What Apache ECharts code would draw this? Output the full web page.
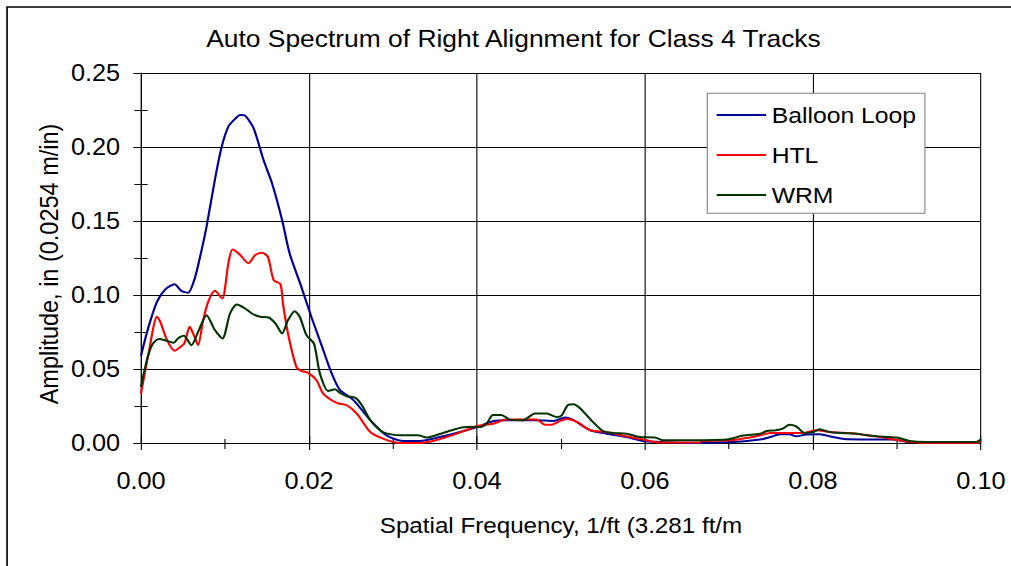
<!DOCTYPE html>
<html>
<head>
<meta charset="utf-8">
<script src="https://cdn.jsdelivr.net/npm/echarts@6/dist/echarts.min.js"></script>
<style>
  html, body { margin: 0; padding: 0; background: #fff; overflow: hidden; }
  /* Chart is laid out in a narrower box and widened 1.1x, giving the broad Arial look */
  #chart { position: absolute; left: 0; top: 0; width: 919.09px; height: 566px;
           transform: scaleX(1.1); transform-origin: 0 0; }
</style>
</head>
<body>
<div id="chart"></div>
<script>
// Spatial frequency (1/ft) and amplitude (in) for each track
const balloonFreq = [0, 0.0009, 0.0019, 0.0029, 0.0040, 0.0048, 0.0056, 0.0064, 0.0072, 0.0078, 0.0088, 0.0096, 0.0104, 0.0112, 0.0118, 0.0124, 0.0134, 0.0146, 0.0156, 0.0168, 0.0177, 0.0190, 0.0203, 0.0215, 0.0227, 0.0237, 0.0253, 0.0273, 0.0292, 0.0312, 0.0332, 0.0356, 0.0380, 0.0400, 0.0419, 0.0435, 0.0471, 0.0491, 0.0505, 0.0515, 0.0535, 0.0554, 0.0578, 0.0598, 0.0618, 0.0646, 0.0701, 0.0737, 0.0749, 0.0761, 0.0772, 0.0780, 0.0792, 0.0808, 0.0824, 0.0840, 0.0895, 0.0915, 0.0995, 0.1000];
const balloonAmp = [0.059, 0.0785, 0.0954, 0.1038, 0.1072, 0.1028, 0.1015, 0.1112, 0.130, 0.146, 0.178, 0.200, 0.2138, 0.219, 0.2217, 0.2212, 0.2127, 0.191, 0.1755, 0.1507, 0.128, 0.107, 0.085, 0.066, 0.047, 0.0357, 0.029, 0.0154, 0.0052, 0.0014, 0.0014, 0.004, 0.0074, 0.0108, 0.0147, 0.0154, 0.0154, 0.0149, 0.0172, 0.0154, 0.0086, 0.0063, 0.004, 0.0014, 0.0007, 0.0, 0.0005, 0.0023, 0.004, 0.0059, 0.0059, 0.0045, 0.0057, 0.0059, 0.004, 0.0025, 0.0023, 0.0007, 0.0007, 0.0018];

const htlFreq = [0, 0.0009, 0.0019, 0.0023, 0.0031, 0.0040, 0.0048, 0.0052, 0.0058, 0.0064, 0.0068, 0.0074, 0.0080, 0.0088, 0.0097, 0.0100, 0.0104, 0.0109, 0.0117, 0.0128, 0.0136, 0.0144, 0.0151, 0.0158, 0.0166, 0.0169, 0.0175, 0.0185, 0.0191, 0.0199, 0.0209, 0.0217, 0.0233, 0.0245, 0.0257, 0.0273, 0.0288, 0.0308, 0.0332, 0.0351, 0.0376, 0.0400, 0.0419, 0.0435, 0.0471, 0.0481, 0.0489, 0.0499, 0.0507, 0.0519, 0.0535, 0.0554, 0.0578, 0.0598, 0.0618, 0.0665, 0.0669, 0.0701, 0.0725, 0.0737, 0.0749, 0.0788, 0.0804, 0.0820, 0.0852, 0.0884, 0.0908, 0.0935, 0.0995, 0.1000];
const htlAmp = [0.0334, 0.0605, 0.0853, 0.0819, 0.0695, 0.0623, 0.0654, 0.0677, 0.0785, 0.0713, 0.0661, 0.083, 0.0954, 0.1028, 0.0977, 0.1045, 0.1214, 0.1308, 0.1277, 0.1214, 0.127, 0.1286, 0.1259, 0.110, 0.1074, 0.0943, 0.074, 0.0514, 0.0487, 0.0474, 0.0424, 0.0334, 0.0271, 0.0255, 0.0199, 0.0074, 0.003, 0.0, 0.0, 0.0018, 0.0063, 0.0115, 0.013, 0.0158, 0.0158, 0.0124, 0.0124, 0.0149, 0.0162, 0.0142, 0.0086, 0.0074, 0.0045, 0.0023, 0.0003, 0.0003, 0.0014, 0.0018, 0.0037, 0.0052, 0.0068, 0.0068, 0.0086, 0.0074, 0.0063, 0.0037, 0.0014, 0.0, 0.0, 0.0018];

const wrmFreq = [0, 0.0007, 0.0013, 0.0021, 0.0031, 0.0039, 0.0044, 0.0051, 0.0060, 0.0068, 0.0078, 0.0088, 0.0097, 0.0106, 0.0114, 0.0124, 0.0132, 0.0142, 0.0152, 0.0160, 0.0168, 0.0175, 0.0183, 0.0189, 0.0197, 0.0206, 0.0213, 0.0223, 0.0231, 0.0237, 0.0245, 0.0255, 0.0263, 0.0273, 0.0288, 0.0308, 0.0330, 0.0340, 0.0351, 0.0372, 0.0387, 0.0404, 0.0412, 0.0419, 0.0429, 0.0439, 0.0455, 0.0469, 0.0483, 0.0495, 0.0501, 0.0508, 0.0515, 0.0523, 0.0536, 0.0550, 0.0562, 0.0578, 0.0594, 0.0612, 0.0622, 0.0642, 0.0697, 0.0717, 0.0737, 0.0745, 0.0756, 0.0764, 0.0772, 0.0780, 0.0790, 0.0800, 0.0808, 0.0820, 0.0832, 0.0852, 0.0864, 0.0876, 0.0900, 0.0915, 0.0935, 0.0995, 0.1000];
const wrmAmp = [0.0379, 0.056, 0.0661, 0.0702, 0.069, 0.0677, 0.0706, 0.0724, 0.0661, 0.0751, 0.0864, 0.0763, 0.0706, 0.0875, 0.0936, 0.0909, 0.0875, 0.0853, 0.0848, 0.0808, 0.074, 0.083, 0.0891, 0.0853, 0.0729, 0.067, 0.047, 0.0352, 0.0363, 0.0338, 0.0316, 0.0307, 0.0255, 0.0154, 0.0074, 0.0052, 0.0052, 0.0037, 0.0052, 0.009, 0.0108, 0.0108, 0.0135, 0.019, 0.019, 0.0158, 0.0154, 0.0199, 0.0199, 0.0176, 0.0187, 0.0255, 0.0262, 0.0233, 0.0154, 0.0081, 0.0068, 0.0063, 0.004, 0.0037, 0.0018, 0.0018, 0.0023, 0.005, 0.0063, 0.0081, 0.0086, 0.0097, 0.0124, 0.0113, 0.0068, 0.0074, 0.0093, 0.0074, 0.0068, 0.0063, 0.0052, 0.0045, 0.0037, 0.0014, 0.0007, 0.0007, 0.0025];

const seriesNames = ['Balloon Loop', 'HTL', 'WRM'];
const seriesColors = ['#000099', '#ff0000', '#003300'];
const titleText = 'Auto Spectrum of Right Alignment for Class 4 Tracks';
const xName = 'Spatial Frequency, 1/ft (3.281 ft/m';
const yName = 'Amplitude, in (0.0254 m/in)';

const zip = (xs, ys) => xs.map((x, i) => [x, ys[i]]);
const FONT = '"Liberation Sans", Arial, sans-serif';

const chart = echarts.init(document.getElementById('chart'), null, { renderer: 'svg' });

const gridPos = { left: 128.18, right: 27.27, top: 73, bottom: 123 };

function xAxisCfg(outside) {
  return {
    type: 'value', min: 0, max: 0.1, interval: 0.02, position: 'bottom',
    axisLine: { show: outside, onZero: false, lineStyle: { color: '#000', width: 1 } },
    axisTick: { show: true, inside: !outside, length: 7, lineStyle: { color: '#000' } },
    minorTick: { show: true, splitNumber: 2, length: outside ? 6 : 4, lineStyle: { color: '#000' } },
    axisLabel: { show: outside, margin: 26, color: '#000', fontFamily: FONT, fontSize: 23,
                 formatter: v => v.toFixed(2) },
    splitLine: { show: outside, lineStyle: { color: '#000', width: 1 } }
  };
}
function yAxisCfg(outside) {
  return {
    type: 'value', min: 0, max: 0.25, interval: 0.05, position: 'left',
    axisLine: { show: outside, onZero: false, lineStyle: { color: '#000', width: 1 } },
    axisTick: { show: true, inside: !outside, length: 7, lineStyle: { color: '#000' } },
    minorTick: { show: true, splitNumber: 2, length: 6, lineStyle: { color: '#000' } },
    axisLabel: { show: outside, margin: 19, color: '#000', fontFamily: FONT, fontSize: 23,
                 formatter: v => v.toFixed(2) },
    splitLine: { show: outside, lineStyle: { color: '#000', width: 1 } }
  };
}

const freqs = [balloonFreq, htlFreq, wrmFreq];
const amps = [balloonAmp, htlAmp, wrmAmp];

chart.setOption({
  animation: false,
  backgroundColor: '#fff',
  grid: gridPos,
  xAxis: [xAxisCfg(true), xAxisCfg(false)],
  yAxis: [yAxisCfg(true), yAxisCfg(false)],
  legend: {
    orient: 'vertical', left: 643, top: 93.3,
    padding: [9.7, 8, 6.3, 8.5],
    itemGap: 16, itemWidth: 45, itemHeight: 2, icon: 'rect',
    borderColor: '#808080', borderWidth: 1, backgroundColor: '#fff',
    textStyle: { color: '#000', fontFamily: FONT, fontSize: 22.5, lineHeight: 24 },
    data: seriesNames
  },
  series: seriesNames.map((name, i) => ({
    name, type: 'line', xAxisIndex: 0, yAxisIndex: 0,
    data: zip(freqs[i], amps[i]),
    showSymbol: false, smooth: 0.25,
    lineStyle: { color: seriesColors[i], width: 2 },
    itemStyle: { color: seriesColors[i] },
    z: 3 + i
  })),
  graphic: [
    { type: 'rect', silent: true, z: 100,
      shape: { x: 6.4, y: 7, width: 1000, height: 700 },
      style: { fill: null, stroke: '#000', lineWidth: 1.5 } },
    { type: 'text', x: 466.8, y: 38.5, z: 100,
      style: { text: titleText, textAlign: 'center', textVerticalAlign: 'middle',
               fill: '#000', font: '24px ' + FONT } },
    { type: 'text', x: 510, y: 525.5, z: 100,
      style: { text: xName, textAlign: 'center', textVerticalAlign: 'middle',
               fill: '#000', font: '22px ' + FONT } },
    { type: 'text', x: 45, y: 264, rotation: Math.PI / 2, z: 100,
      style: { text: yName, textAlign: 'center', textVerticalAlign: 'middle',
               fill: '#000', font: '23.5px ' + FONT } }
  ]
});
</script>
</body>
</html>
